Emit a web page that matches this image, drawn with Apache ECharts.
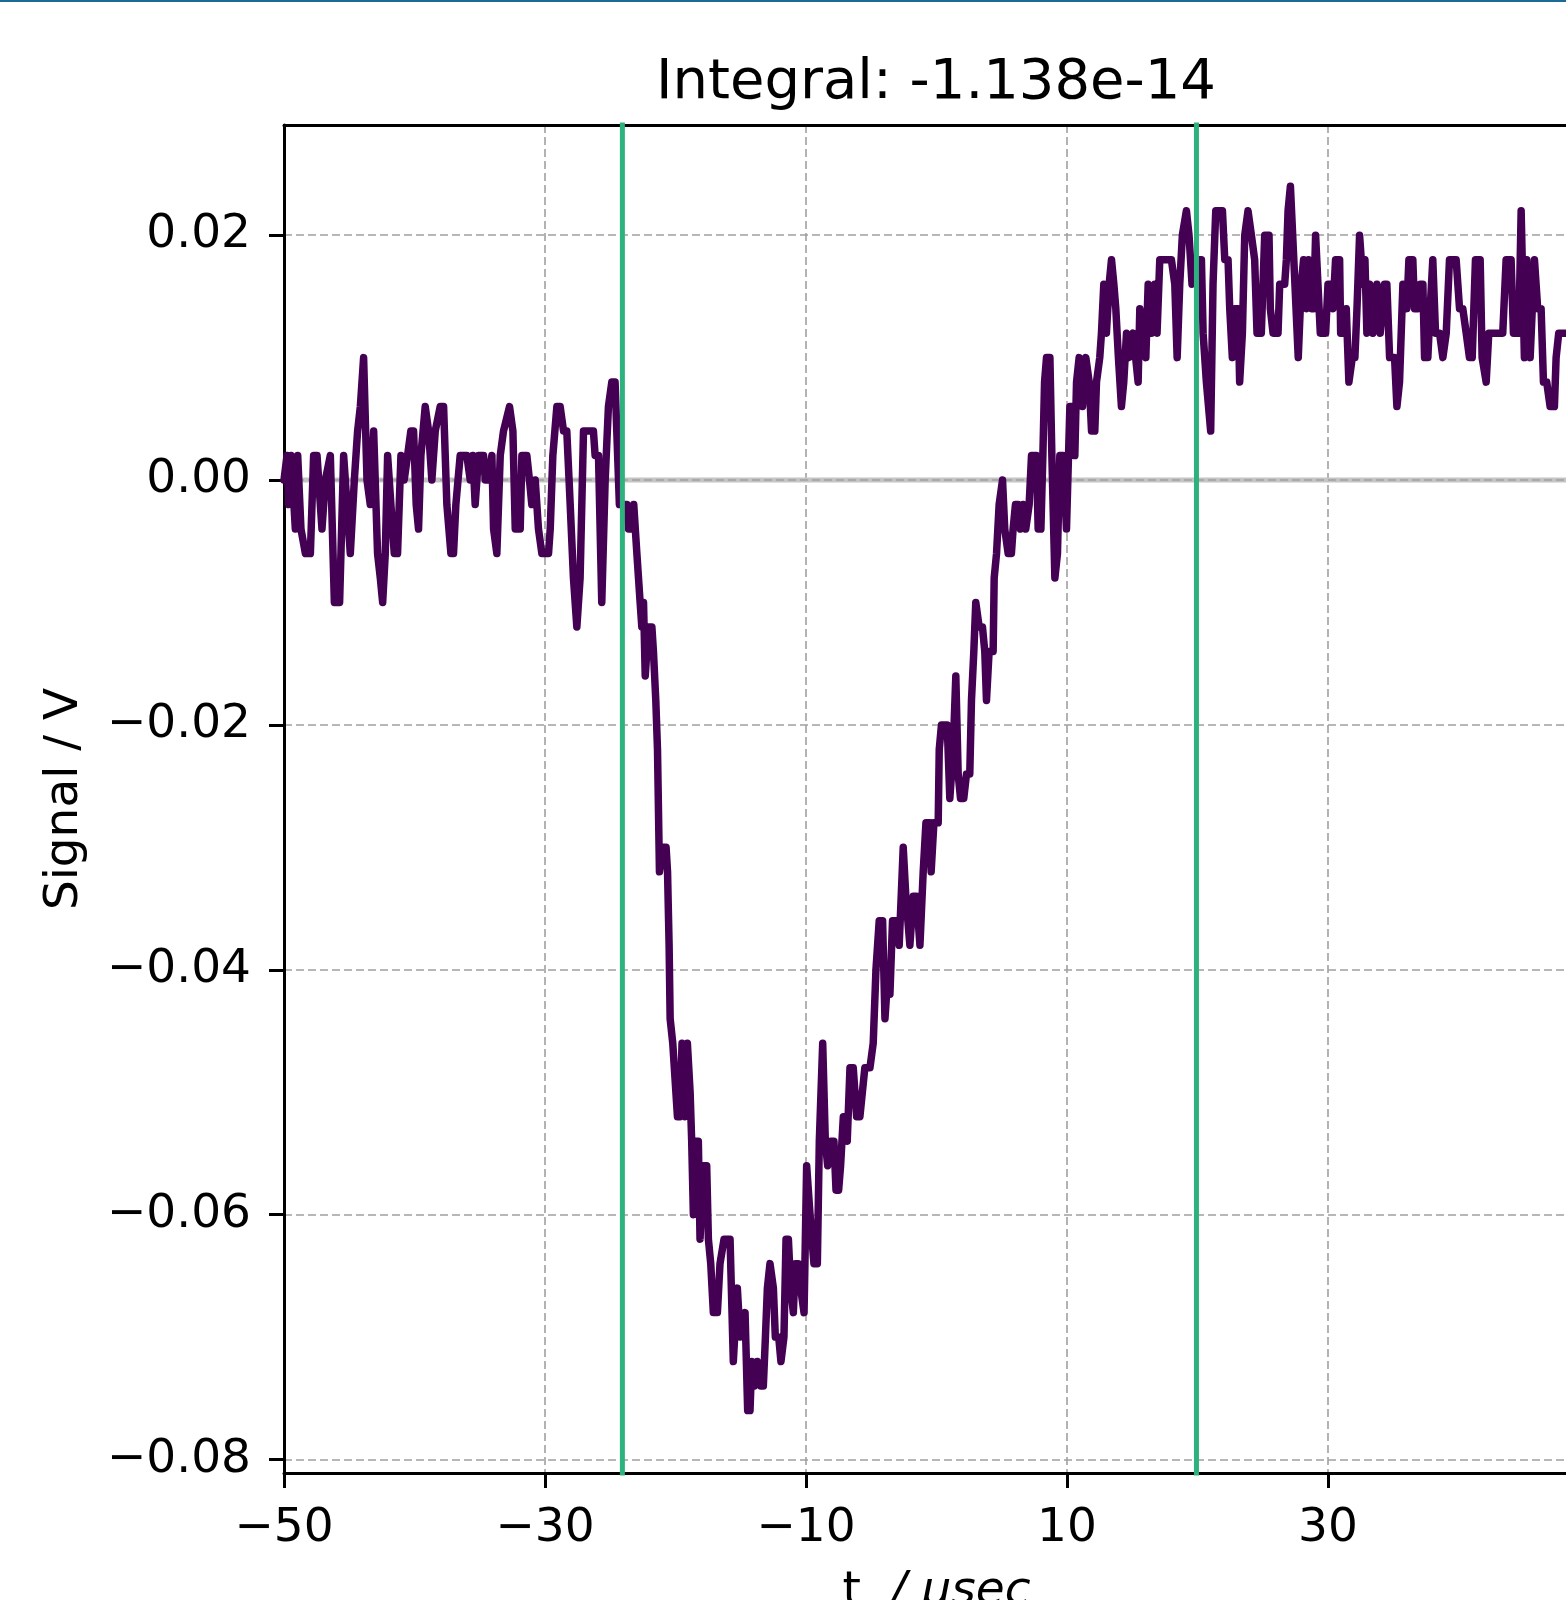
<!DOCTYPE html>
<html>
<head>
<meta charset="utf-8">
<script src="https://cdn.jsdelivr.net/npm/echarts@6/dist/echarts.min.js"></script>
<style>
  html, body { margin: 0; padding: 0; background: #fff; }
  #container { width: 1566px; height: 1600px; }
</style>
</head>
<body>
<div id="container"></div>
<script>
// time axis in usec
var tUs = [
  -50.00, -49.77, -49.64, -49.46, -49.13, -48.95, -48.70, -48.36, -47.98, -47.73,
  -47.47, -47.09, -46.83, -46.45, -46.14, -45.74, -45.43, -44.92, -44.61, -44.36,
  -44.15, -43.90, -43.64, -43.39, -43.13, -42.83, -42.62, -42.44, -42.24, -42.06,
  -41.81, -41.55, -41.30, -41.04, -40.79, -40.53, -40.28, -40.07, -39.87, -39.69,
  -39.51, -39.18, -38.92, -38.67, -38.41, -38.03, -37.77, -37.52, -37.21, -37.01,
  -36.83, -36.50, -35.99, -35.73, -35.53, -35.35, -35.09, -34.71, -34.58, -34.33,
  -34.07, -33.94, -33.69, -33.43, -33.18, -32.72, -32.46, -32.28, -31.90, -31.77,
  -31.39, -31.19, -31.01, -30.75, -30.50, -30.24, -29.73, -29.60, -29.40, -29.09,
  -28.84, -28.58, -28.33, -28.07, -27.82, -27.56, -27.31, -27.05, -26.29, -26.16,
  -25.90, -25.65, -25.39, -25.14, -24.88, -24.63, -24.50, -24.30, -23.73, -23.60,
  -23.42, -23.20, -22.96, -22.71, -22.58, -22.45, -22.32, -22.07, -21.81, -21.69,
  -21.51, -21.38, -21.23, -21.02, -20.72, -20.61, -20.49, -20.41, -20.21, -19.85,
  -19.65, -19.50, -19.27, -19.09, -18.88, -18.76, -18.63, -18.45, -18.25, -18.12,
  -17.86, -17.61, -17.48, -17.30, -17.10, -16.79, -16.59, -16.28, -15.82, -15.57,
  -15.26, -15.05, -14.90, -14.67, -14.47, -14.29, -14.16, -13.96, -13.73, -13.47,
  -13.27, -13.11, -12.96, -12.76, -12.50, -12.35, -12.09, -11.92, -11.69, -11.53,
  -11.35, -11.17, -10.97, -10.82, -10.59, -10.41, -10.15, -9.95, -9.69, -9.39,
  -9.13, -8.98, -8.72, -8.52, -8.34, -8.11, -7.86, -7.70, -7.50, -7.35,
  -7.14, -6.96, -6.84, -6.63, -6.38, -6.12, -5.87, -5.49, -5.10, -4.85,
  -4.64, -4.39, -4.13, -3.95, -3.70, -3.57, -3.37, -3.06, -2.86, -2.55,
  -2.35, -2.04, -1.78, -1.53, -1.27, -1.02, -0.81, -0.51, -0.41, -0.20,
  0.13, 0.21, 0.38, 0.82, 1.02, 1.28, 1.48, 1.66, 1.84, 2.09,
  2.30, 2.55, 2.68, 2.86, 3.01, 3.27, 3.52, 3.70, 3.83, 4.03,
  4.34, 4.42, 4.60, 4.80, 5.06, 5.23, 5.49, 5.74, 5.87, 6.05,
  6.25, 6.43, 6.64, 6.84, 7.10, 7.28, 7.66, 7.79, 8.00, 8.15,
  8.28, 8.43, 8.69, 8.84, 9.07, 9.27, 9.45, 9.71, 9.96, 10.22,
  10.47, 10.60, 10.73, 10.93, 11.19, 11.44, 11.70, 11.88, 12.13, 12.26,
  12.51, 12.64, 12.82, 13.02, 13.23, 13.41, 13.59, 13.74, 13.94, 14.17,
  14.35, 14.56, 14.76, 15.07, 15.45, 15.58, 15.83, 16.04, 16.22, 16.47,
  16.73, 16.90, 17.11, 18.00, 18.26, 18.44, 18.64, 18.84, 19.15, 19.35,
  19.58, 19.92, 20.30, 20.43, 20.68, 21.01, 21.19, 21.40, 21.91, 22.09,
  22.34, 22.47, 22.67, 22.85, 23.11, 23.23, 23.44, 23.62, 23.87, 24.13,
  24.38, 24.56, 24.89, 25.15, 25.48, 25.58, 25.79, 26.17, 26.30, 26.68,
  26.81, 26.94, 27.12, 27.38, 27.72, 27.95, 28.13, 28.34, 28.51, 28.72,
  28.90, 29.05, 29.23, 29.41, 29.82, 30.00, 30.25, 30.38, 30.58, 30.89,
  30.97, 31.19, 31.40, 31.60, 31.86, 32.06, 32.22, 32.42, 32.68, 32.83,
  32.98, 33.19, 33.44, 33.75, 34.00, 34.33, 34.51, 34.72, 35.10, 35.28,
  35.48, 35.74, 36.04, 36.20, 36.50, 36.63, 36.89, 37.07, 37.27, 37.40,
  37.65, 37.83, 38.03, 38.24, 38.55, 38.80, 39.06, 39.31, 39.82, 40.08,
  40.33, 40.59, 40.84, 41.05, 41.30, 41.66, 41.81, 42.12, 42.32, 43.39,
  43.65, 44.03, 44.21, 44.62, 44.80, 45.05, 45.23, 45.49, 45.82, 46.07,
  46.33, 46.51, 46.76, 47.02, 47.35, 47.48, 47.68, 48.12, 48.60
];

// signal in volts (quantised to 2 mV)
var signalV = [
  0.000, 0.002, -0.002, 0.002, -0.004, 0.002, -0.004, -0.006, -0.006, 0.002,
  0.002, -0.004, 0.000, 0.002, -0.010, -0.010, 0.002, -0.006, 0.000, 0.004,
  0.006, 0.010, 0.000, -0.002, 0.004, -0.006, -0.008, -0.010, -0.006, 0.002,
  -0.002, -0.006, -0.006, 0.002, 0.000, 0.002, 0.004, 0.004, -0.002, -0.004,
  0.002, 0.006, 0.004, 0.000, 0.004, 0.006, 0.006, -0.002, -0.006, -0.006,
  -0.002, 0.002, 0.002, 0.000, 0.002, -0.002, 0.002, 0.002, 0.000, 0.000,
  0.002, -0.004, -0.006, 0.002, 0.004, 0.006, 0.004, -0.004, -0.004, 0.002,
  0.002, 0.000, -0.002, 0.000, -0.004, -0.006, -0.006, -0.004, 0.002, 0.006,
  0.006, 0.004, 0.004, -0.002, -0.008, -0.012, -0.008, 0.004, 0.004, 0.002,
  0.002, -0.010, 0.000, 0.006, 0.008, 0.008, 0.004, -0.002, -0.002, -0.004,
  -0.004, -0.002, -0.006, -0.010, -0.012, -0.010, -0.016, -0.012, -0.012, -0.014,
  -0.018, -0.022, -0.032, -0.030, -0.030, -0.032, -0.038, -0.044, -0.046, -0.052,
  -0.052, -0.046, -0.052, -0.046, -0.050, -0.054, -0.060, -0.054, -0.054, -0.062,
  -0.056, -0.056, -0.062, -0.064, -0.068, -0.068, -0.064, -0.062, -0.062, -0.072,
  -0.066, -0.070, -0.070, -0.068, -0.076, -0.076, -0.072, -0.074, -0.072, -0.074,
  -0.074, -0.070, -0.066, -0.064, -0.066, -0.070, -0.070, -0.072, -0.070, -0.062,
  -0.062, -0.066, -0.068, -0.064, -0.064, -0.066, -0.068, -0.056, -0.060, -0.064,
  -0.064, -0.054, -0.046, -0.054, -0.056, -0.054, -0.054, -0.058, -0.058, -0.056,
  -0.052, -0.052, -0.054, -0.048, -0.048, -0.052, -0.052, -0.048, -0.048, -0.046,
  -0.040, -0.036, -0.036, -0.044, -0.040, -0.042, -0.036, -0.036, -0.038, -0.030,
  -0.034, -0.038, -0.034, -0.034, -0.038, -0.032, -0.028, -0.028, -0.032, -0.028,
  -0.028, -0.022, -0.020, -0.020, -0.026, -0.022, -0.016, -0.024, -0.026, -0.026,
  -0.024, -0.024, -0.018, -0.014, -0.010, -0.012, -0.012, -0.014, -0.018, -0.014,
  -0.014, -0.008, -0.006, -0.002, 0.000, -0.004, -0.006, -0.006, -0.004, -0.002,
  -0.002, -0.004, -0.002, -0.004, -0.002, 0.002, 0.002, -0.004, -0.004, 0.002,
  0.008, 0.010, 0.010, 0.002, -0.008, -0.006, 0.002, 0.002, -0.004, 0.006,
  0.006, 0.002, 0.008, 0.010, 0.006, 0.010, 0.008, 0.004, 0.004, 0.008,
  0.010, 0.012, 0.016, 0.012, 0.016, 0.018, 0.016, 0.014, 0.010, 0.006,
  0.008, 0.012, 0.010, 0.012, 0.008, 0.014, 0.012, 0.010, 0.016, 0.012,
  0.016, 0.012, 0.018, 0.018, 0.016, 0.010, 0.016, 0.020, 0.022, 0.020,
  0.016, 0.018, 0.018, 0.012, 0.008, 0.004, 0.016, 0.022, 0.022, 0.018,
  0.018, 0.014, 0.010, 0.014, 0.014, 0.008, 0.012, 0.020, 0.022, 0.020,
  0.018, 0.012, 0.012, 0.020, 0.020, 0.014, 0.012, 0.012, 0.016, 0.016,
  0.018, 0.022, 0.024, 0.018, 0.010, 0.016, 0.018, 0.014, 0.018, 0.014,
  0.014, 0.020, 0.016, 0.012, 0.012, 0.016, 0.016, 0.014, 0.018, 0.018,
  0.012, 0.012, 0.014, 0.008, 0.010, 0.010, 0.014, 0.020, 0.016, 0.018,
  0.012, 0.016, 0.012, 0.016, 0.012, 0.016, 0.016, 0.010, 0.010, 0.006,
  0.008, 0.016, 0.014, 0.018, 0.018, 0.014, 0.014, 0.016, 0.016, 0.010,
  0.010, 0.014, 0.018, 0.012, 0.012, 0.010, 0.012, 0.018, 0.018, 0.014,
  0.014, 0.012, 0.010, 0.010, 0.018, 0.018, 0.010, 0.008, 0.012, 0.012,
  0.018, 0.018, 0.012, 0.012, 0.022, 0.010, 0.018, 0.010, 0.018, 0.014,
  0.014, 0.008, 0.008, 0.006, 0.006, 0.010, 0.012, 0.012, 0.012
];

// integration window edges (usec)
var gateTimes = [-24.07, 19.92];

var xTicks = [-50, -30, -10, 10, 30];
var yTicks = [-0.08, -0.06, -0.04, -0.02, 0.00, 0.02];

var titleText = 'Integral: -1.138e-14';

var purple = '#440154';
var green = '#2db27d';
var FONT = 'DejaVu Sans';
var FS = 47;

function minusFmt(v, digits) {
  var s = Math.abs(v).toFixed(digits);
  return (v < -1e-12 ? '\u2212' : '') + s;
}

var trace = [];
for (var i = 0; i < tUs.length; i++) {
  trace.push([tUs[i], signalV[i]]);
}

var gridStyle = { color: '#a0a0a0', width: 1.6, type: [8, 4] };

var series = [
  {
    // zero reference line
    type: 'line',
    data: [[-50, 0], [50, 0]],
    symbol: 'none',
    silent: true,
    z: 1,
    lineStyle: { color: '#c4c4c4', width: 5 }
  },
  {
    // dashed grid line showing over the zero line
    type: 'line',
    data: [[-50, 0], [50, 0]],
    symbol: 'none',
    silent: true,
    z: 2,
    lineStyle: gridStyle
  },
  {
    type: 'line',
    data: trace,
    symbol: 'none',
    z: 3,
    lineStyle: { color: purple, width: 7.5, join: 'round', cap: 'round' }
  }
];
gateTimes.forEach(function (t) {
  series.push({
    type: 'line',
    data: [[t, -0.2], [t, 0.2]],
    symbol: 'none',
    silent: true,
    z: 4,
    lineStyle: { color: green, width: 5 }
  });
});

var myChart = echarts.init(document.getElementById('container'), null, { renderer: 'canvas' });

var option = {
  animation: false,
  backgroundColor: '#ffffff',
  title: {
    text: titleText,
    left: 931,
    top: 50,
    textAlign: 'center',
    textStyle: { fontFamily: FONT, fontSize: 56, fontWeight: 'normal', color: '#000' }
  },
  graphic: [
    { type: 'rect', shape: { x: 0, y: 0, width: 1566, height: 2 }, style: { fill: '#1d6a99' } }
  ],
  grid: {
    left: 284,
    right: -23,
    top: 125,
    bottom: 127,
    containLabel: false,
    outerBoundsMode: 'none'
  },
  xAxis: [
    {
      type: 'value',
      position: 'bottom',
      min: -50,
      max: 50,
      name: '{n|t}  {i|/ \u03bcsec}',
      nameLocation: 'middle',
      nameGap: 95,
      nameTextStyle: {
        fontFamily: FONT, fontSize: FS, color: '#000',
        rich: {
          n: { fontFamily: FONT, fontSize: FS, color: '#000' },
          i: { fontFamily: FONT, fontSize: FS, color: '#000', fontStyle: 'italic' }
        }
      },
      axisLine: { show: true, onZero: false, lineStyle: { color: '#000', width: 3 } },
      axisTick: { show: true, length: 15, lineStyle: { color: '#000', width: 3 }, customValues: xTicks },
      axisLabel: {
        customValues: xTicks,
        fontFamily: FONT, fontSize: FS, color: '#000', margin: 32,
        formatter: function (v) { return minusFmt(v, 0); }
      },
      splitLine: { show: true, lineStyle: gridStyle }
    },
    {
      type: 'value',
      position: 'top',
      min: -50,
      max: 50,
      axisLine: { show: true, onZero: false, lineStyle: { color: '#000', width: 3 } },
      axisTick: { show: false },
      axisLabel: { show: false },
      splitLine: { show: false }
    }
  ],
  yAxis: {
    type: 'value',
    min: -0.0811,
    max: 0.029,
    name: 'Signal / V',
    nameLocation: 'middle',
    nameGap: 196,
    nameTextStyle: { fontFamily: FONT, fontSize: FS, color: '#000' },
    axisLine: { show: true, onZero: false, lineStyle: { color: '#000', width: 3 } },
    axisTick: { show: true, length: 15, lineStyle: { color: '#000', width: 3 }, customValues: yTicks },
    axisLabel: {
      customValues: yTicks,
      fontFamily: FONT, fontSize: FS, color: '#000', margin: 33,
      padding: [14, 0, 0, 0],
      formatter: function (v) { return minusFmt(v, 2); }
    },
    splitLine: { show: true, lineStyle: gridStyle }
  },
  series: series
};

myChart.setOption(option);
</script>
</body>
</html>
